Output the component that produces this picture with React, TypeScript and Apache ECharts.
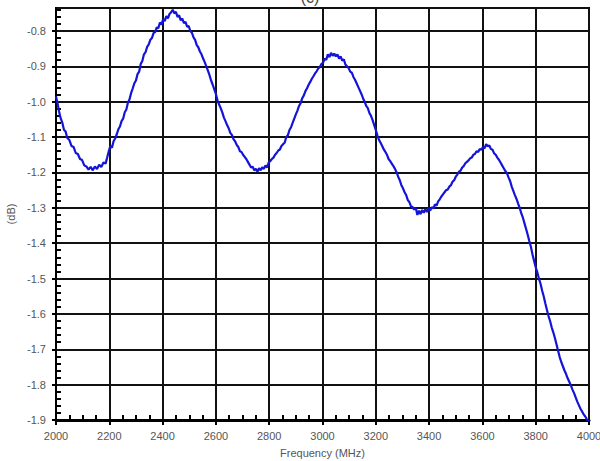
import React, { useEffect, useRef } from "react";
import * as echarts from "echarts";

const xTicks = [2000, 2200, 2400, 2600, 2800, 3000, 3200, 3400, 3600, 3800, 4000];
const yTicks = [-1.9, -1.8, -1.7, -1.6, -1.5, -1.4, -1.3, -1.2, -1.1, -1.0, -0.9, -0.8];
const xLabel = "Frequency (MHz)";
const yLabel = "(dB)";
const panelTitle = "(c)";

// [frequency MHz, response dB]
const sweepPoints: [number, number][] = [
  [2000, -0.985], [2006, -1.005], [2012, -1.03], [2018, -1.048], [2024, -1.06], [2030, -1.08],
  [2036, -1.084], [2042, -1.102], [2050, -1.108], [2058, -1.125], [2066, -1.128], [2074, -1.145],
  [2082, -1.148], [2090, -1.162], [2098, -1.165], [2106, -1.18], [2114, -1.183], [2122, -1.192],
  [2130, -1.184], [2138, -1.194], [2146, -1.183], [2154, -1.19], [2162, -1.178], [2170, -1.185],
  [2178, -1.172], [2186, -1.175], [2192, -1.158], [2198, -1.14], [2204, -1.125], [2210, -1.13],
  [2216, -1.112], [2222, -1.104], [2228, -1.092], [2234, -1.078], [2240, -1.07], [2246, -1.055],
  [2252, -1.048], [2258, -1.03], [2264, -1.022], [2270, -1.002], [2276, -0.993], [2282, -0.975],
  [2288, -0.962], [2294, -0.948], [2300, -0.94], [2306, -0.922], [2312, -0.915], [2318, -0.893],
  [2324, -0.885], [2330, -0.866], [2336, -0.86], [2342, -0.845], [2348, -0.838], [2354, -0.825],
  [2360, -0.82], [2366, -0.806], [2372, -0.803], [2378, -0.79], [2384, -0.792], [2390, -0.776],
  [2396, -0.782], [2402, -0.766], [2408, -0.772], [2414, -0.758], [2420, -0.764], [2426, -0.752],
  [2432, -0.747], [2438, -0.74], [2444, -0.75], [2450, -0.746], [2456, -0.76], [2462, -0.756],
  [2468, -0.77], [2474, -0.765], [2480, -0.778], [2486, -0.774], [2492, -0.788], [2498, -0.786],
  [2504, -0.8], [2510, -0.805], [2516, -0.818], [2522, -0.825], [2528, -0.84], [2534, -0.846],
  [2540, -0.858], [2546, -0.866], [2552, -0.878], [2558, -0.888], [2564, -0.9], [2570, -0.912],
  [2576, -0.925], [2582, -0.94], [2588, -0.952], [2594, -0.965], [2600, -0.978], [2606, -0.996],
  [2612, -1.008], [2618, -1.018], [2624, -1.03], [2630, -1.045], [2636, -1.055], [2642, -1.066],
  [2648, -1.075], [2654, -1.088], [2660, -1.094], [2666, -1.106], [2672, -1.112], [2678, -1.122],
  [2684, -1.128], [2690, -1.14], [2696, -1.142], [2702, -1.15], [2708, -1.156], [2714, -1.162],
  [2720, -1.17], [2726, -1.178], [2732, -1.186], [2738, -1.184], [2744, -1.194], [2750, -1.19],
  [2756, -1.198], [2762, -1.188], [2768, -1.194], [2774, -1.185], [2780, -1.19], [2786, -1.18],
  [2792, -1.186], [2798, -1.172], [2804, -1.168], [2810, -1.162], [2816, -1.158], [2822, -1.15],
  [2828, -1.145], [2834, -1.138], [2840, -1.135], [2846, -1.125], [2852, -1.12], [2858, -1.116],
  [2864, -1.1], [2870, -1.095], [2876, -1.08], [2882, -1.072], [2888, -1.06], [2894, -1.048],
  [2900, -1.036], [2906, -1.025], [2912, -1.012], [2918, -1.004], [2924, -0.99], [2930, -0.982],
  [2936, -0.97], [2942, -0.962], [2948, -0.952], [2954, -0.944], [2960, -0.935], [2966, -0.928],
  [2972, -0.92], [2978, -0.914], [2984, -0.906], [2990, -0.902], [2996, -0.893], [3002, -0.89],
  [3008, -0.878], [3014, -0.882], [3020, -0.866], [3026, -0.874], [3032, -0.862], [3038, -0.87],
  [3044, -0.864], [3050, -0.872], [3056, -0.866], [3062, -0.878], [3068, -0.872], [3074, -0.884],
  [3080, -0.88], [3086, -0.895], [3092, -0.9], [3098, -0.905], [3104, -0.915], [3110, -0.918],
  [3116, -0.93], [3122, -0.938], [3128, -0.948], [3134, -0.958], [3140, -0.968], [3146, -0.978],
  [3152, -0.99], [3158, -1.0], [3164, -1.012], [3170, -1.018], [3176, -1.032], [3182, -1.04],
  [3188, -1.052], [3194, -1.066], [3200, -1.08], [3206, -1.095], [3212, -1.108], [3218, -1.116],
  [3224, -1.125], [3230, -1.135], [3236, -1.142], [3242, -1.15], [3248, -1.162], [3254, -1.168],
  [3260, -1.175], [3266, -1.182], [3272, -1.19], [3278, -1.2], [3284, -1.212], [3290, -1.222],
  [3296, -1.236], [3302, -1.245], [3308, -1.256], [3314, -1.264], [3320, -1.278], [3326, -1.284],
  [3332, -1.296], [3338, -1.298], [3344, -1.305], [3350, -1.3], [3356, -1.32], [3362, -1.308],
  [3368, -1.318], [3374, -1.306], [3380, -1.314], [3386, -1.304], [3392, -1.312], [3398, -1.3],
  [3404, -1.308], [3410, -1.298], [3416, -1.302], [3422, -1.29], [3428, -1.294], [3434, -1.282],
  [3440, -1.276], [3446, -1.268], [3452, -1.262], [3458, -1.256], [3464, -1.25], [3470, -1.248],
  [3476, -1.24], [3482, -1.236], [3488, -1.226], [3494, -1.222], [3500, -1.212], [3506, -1.206],
  [3512, -1.198], [3518, -1.195], [3524, -1.186], [3530, -1.182], [3536, -1.174], [3542, -1.17],
  [3548, -1.166], [3554, -1.16], [3560, -1.158], [3566, -1.15], [3572, -1.148], [3578, -1.14],
  [3584, -1.142], [3590, -1.134], [3596, -1.136], [3602, -1.128], [3608, -1.132], [3614, -1.12],
  [3620, -1.126], [3626, -1.124], [3632, -1.134], [3638, -1.136], [3644, -1.146], [3650, -1.15],
  [3656, -1.158], [3662, -1.164], [3668, -1.172], [3674, -1.18], [3680, -1.188], [3686, -1.196],
  [3692, -1.202], [3698, -1.214], [3704, -1.224], [3710, -1.24], [3716, -1.252], [3722, -1.264],
  [3728, -1.275], [3734, -1.288], [3740, -1.3], [3746, -1.316], [3752, -1.328], [3758, -1.344],
  [3764, -1.36], [3770, -1.376], [3776, -1.394], [3782, -1.41], [3788, -1.432], [3794, -1.45],
  [3800, -1.468], [3806, -1.482], [3812, -1.5], [3818, -1.514], [3824, -1.534], [3830, -1.55],
  [3836, -1.57], [3842, -1.588], [3848, -1.606], [3854, -1.62], [3860, -1.638], [3866, -1.652],
  [3872, -1.668], [3878, -1.686], [3884, -1.704], [3890, -1.722], [3896, -1.736], [3902, -1.748],
  [3908, -1.76], [3914, -1.77], [3920, -1.782], [3926, -1.792], [3932, -1.802], [3938, -1.814],
  [3944, -1.824], [3950, -1.836], [3956, -1.848], [3962, -1.858], [3968, -1.868], [3974, -1.876],
  [3980, -1.884], [3986, -1.89], [3992, -1.898], [3998, -1.904], [4000, -1.906],
];

const Y_MIN = yTicks[0];
const Y_MAX = -0.735;
const labelFont = "Arial, 'Liberation Sans', sans-serif";

export default function App() {
  const ref = useRef<HTMLDivElement>(null);
  useEffect(() => {
    if (!ref.current) return;
    const chart = echarts.init(ref.current, null, { renderer: "svg" });
    const isTick = (v: number) => Math.abs(v * 10 - Math.round(v * 10)) < 1e-6;
    chart.setOption({
      animation: false,
      backgroundColor: "#fff",
      grid: {
        left: 56,
        right: 11,
        top: 8,
        bottom: 41,
        show: true,
        borderColor: "#000",
        borderWidth: 2,
        containLabel: false,
        outerBoundsMode: "none",
      },
      graphic: [
        {
          type: "text",
          x: 310,
          y: 5,
          style: {
            text: panelTitle,
            fontSize: 16,
            fontFamily: labelFont,
            fill: "#444",
            textAlign: "center",
            textVerticalAlign: "bottom",
          },
        },
      ],
      xAxis: [
        {
          type: "value",
          min: xTicks[0],
          max: xTicks[xTicks.length - 1],
          interval: 200,
          position: "bottom",
          name: xLabel,
          nameLocation: "middle",
          nameGap: 27,
          nameTextStyle: { color: "#555", fontSize: 11, fontFamily: labelFont },
          axisLine: { show: true, lineStyle: { color: "#000", width: 3 } },
          axisTick: { show: true, inside: false, length: 5, lineStyle: { color: "#000", width: 2 } },
          axisLabel: {
            color: "#555",
            fontSize: 11,
            fontFamily: labelFont,
            margin: 10,
            formatter: (v: number) => String(Math.round(v)),
          },
          splitLine: { show: true, lineStyle: { color: "#111", width: 2 } },
        },
        {
          type: "value",
          min: xTicks[0],
          max: xTicks[xTicks.length - 1],
          interval: 200,
          position: "bottom",
          axisLine: { show: false },
          axisLabel: { show: false },
          splitLine: { show: false },
          axisTick: { show: false, inside: true },
          minorTick: { show: true, splitNumber: 4, length: 5, lineStyle: { color: "#000", width: 2 } },
        },
      ],
      yAxis: [
        {
          type: "value",
          min: Y_MIN,
          max: Y_MAX,
          interval: 0.1,
          position: "left",
          name: yLabel,
          nameLocation: "middle",
          nameGap: 38,
          nameRotate: 90,
          nameTextStyle: { color: "#555", fontSize: 11, fontFamily: labelFont },
          axisLine: { show: true, lineStyle: { color: "#000", width: 2 } },
          axisTick: { show: true, inside: false, length: 4, lineStyle: { color: "#000", width: 2 } },
          axisLabel: {
            color: "#555",
            fontSize: 11,
            fontFamily: labelFont,
            margin: 10,
            showMaxLabel: false,
            formatter: (v: number) => (isTick(v) ? v.toFixed(1) : ""),
          },
          splitLine: { show: true, lineStyle: { color: "#111", width: 2 } },
        },
        {
          type: "value",
          min: Y_MIN,
          max: Y_MAX,
          interval: 0.1,
          position: "left",
          axisLine: { show: false },
          axisLabel: { show: false },
          splitLine: { show: false },
          axisTick: { show: false, inside: true },
          minorTick: { show: true, splitNumber: 5, length: 5, lineStyle: { color: "#000", width: 2 } },
        },
      ],
      series: [
        {
          type: "line",
          xAxisIndex: 0,
          yAxisIndex: 0,
          data: sweepPoints,
          showSymbol: false,
          symbol: "none",
          lineStyle: { color: "#1414d8", width: 2.2 },
          clip: true,
        },
      ],
    });
    return () => chart.dispose();
  }, []);
  return (
    <div
      ref={ref}
      style={{ position: "fixed", left: 0, top: 0, width: 600, height: 461, background: "#fff" }}
    />
  );
}
